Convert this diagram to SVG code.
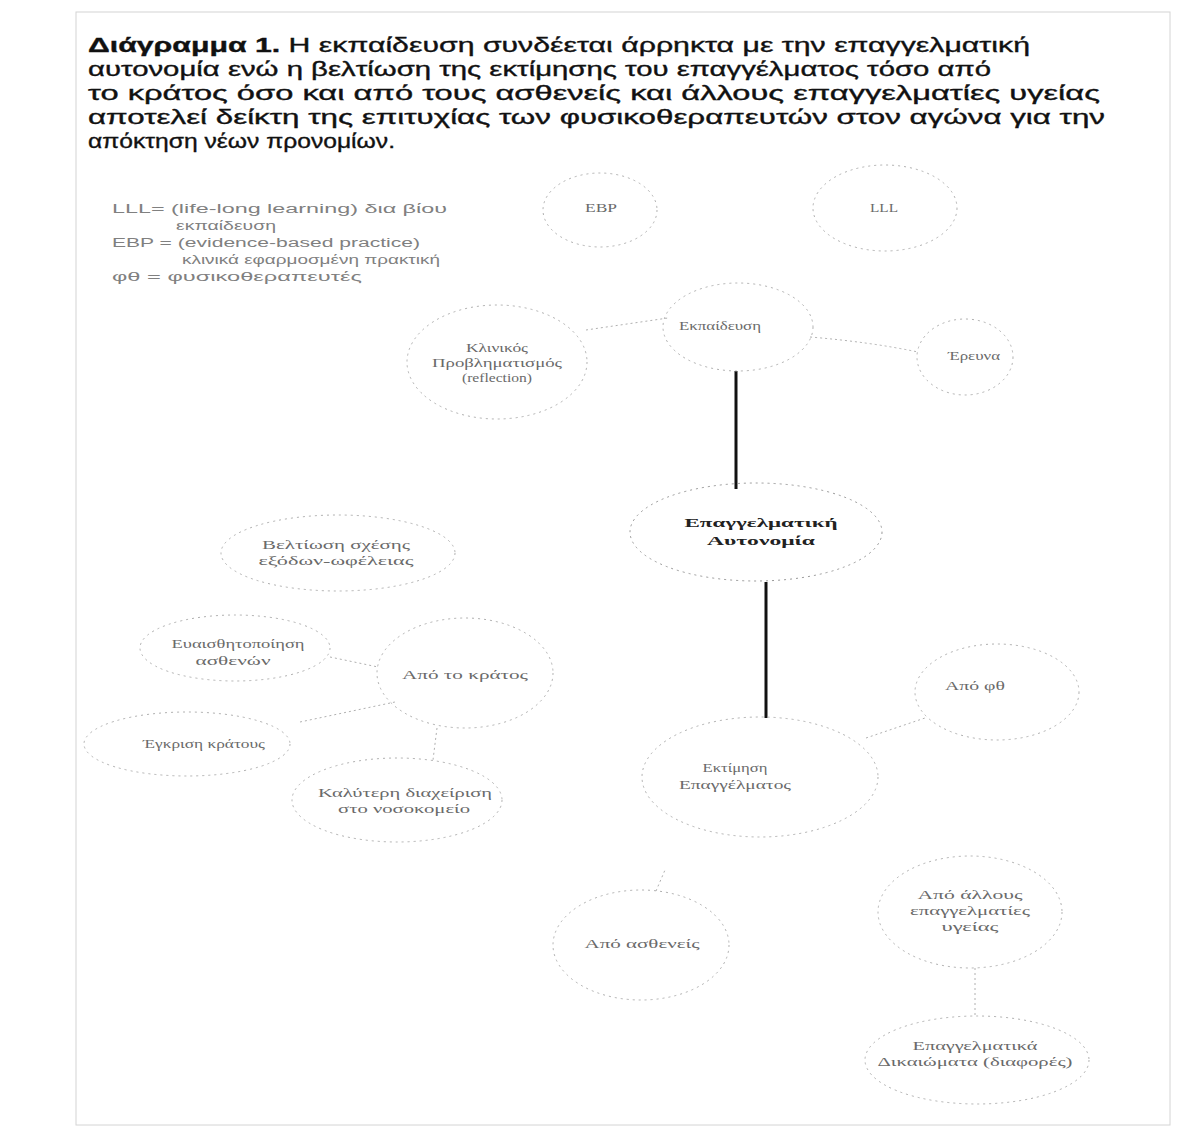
<svg xmlns="http://www.w3.org/2000/svg" width="1177" height="1127" viewBox="0 0 1177 1127">
<style>
.title{font-family:"Liberation Sans",Arial,sans-serif;font-size:20px;fill:#111;stroke:#111;stroke-width:0.35}
.legend{font-family:"Liberation Sans",Arial,sans-serif;font-size:12.5px;fill:#808080}
.node ellipse{fill:none;stroke:#b0b0b0;stroke-width:1;stroke-dasharray:2 4}
.node text{font-family:"Liberation Serif","Times New Roman",serif;font-size:11.5px;fill:#6a6a6a;text-anchor:middle}
.main text{font-weight:bold;font-size:13.5px;fill:#222}
.main ellipse{stroke:#999}
.thin{stroke:#b0b0b0;stroke-width:1;fill:none;stroke-dasharray:2 3}
.thick{stroke:#111;stroke-width:3;fill:none}
</style>
<rect width="1177" height="1127" fill="#fff"/>
<rect x="76" y="12" width="1094" height="1113" fill="none" stroke="#d4d4d4" stroke-width="1"/>
<g id="title">
<text class="title" x="88" y="52" textLength="942" lengthAdjust="spacingAndGlyphs"><tspan font-weight="bold">Διάγραμμα 1.</tspan> Η εκπαίδευση συνδέεται άρρηκτα με την επαγγελματική</text>
<text class="title" x="88" y="76" textLength="903" lengthAdjust="spacingAndGlyphs">αυτονομία ενώ η βελτίωση της εκτίμησης του επαγγέλματος τόσο από</text>
<text class="title" x="88" y="100" textLength="1012" lengthAdjust="spacingAndGlyphs">το κράτος όσο και από τους ασθενείς και άλλους επαγγελματίες υγείας</text>
<text class="title" x="88" y="124" textLength="1017" lengthAdjust="spacingAndGlyphs">αποτελεί δείκτη της επιτυχίας των φυσικοθεραπευτών στον αγώνα για την</text>
<text class="title" x="88" y="148" textLength="307" lengthAdjust="spacingAndGlyphs">απόκτηση νέων προνομίων.</text>
</g>
<g id="legend">
<text class="legend" x="112" y="213" textLength="335" lengthAdjust="spacingAndGlyphs">LLL= (life-long learning) δια βίου</text>
<text class="legend" x="176" y="230" textLength="100" lengthAdjust="spacingAndGlyphs">εκπαίδευση</text>
<text class="legend" x="112" y="247" textLength="308" lengthAdjust="spacingAndGlyphs">EBP = (evidence-based practice)</text>
<text class="legend" x="182" y="264" textLength="258" lengthAdjust="spacingAndGlyphs">κλινικά εφαρμοσμένη πρακτική</text>
<text class="legend" x="112" y="281" textLength="250" lengthAdjust="spacingAndGlyphs">φθ = φυσικοθεραπευτές</text>
</g>
<g id="connectors">
<line class="thick" x1="736" y1="371" x2="736" y2="489"/>
<line class="thick" x1="766" y1="582" x2="766" y2="718"/>
<path class="thin" d="M586 330 L668 318"/>
<path class="thin" d="M810 337 Q870 342 918 352"/>
<path class="thin" d="M330 657 L378 667"/>
<path class="thin" d="M300 722 L395 702"/>
<path class="thin" d="M437 728 L433 760"/>
<path class="thin" d="M866 738 L925 718"/>
<path class="thin" d="M656 891 L665 870"/>
<path class="thin" d="M975 968 L975 1017"/>
</g>
<g id="n-ebp" class="node"><ellipse cx="600" cy="210" rx="57" ry="37"/><text x="601" y="212" textLength="32" lengthAdjust="spacingAndGlyphs">EBP</text></g>
<g id="n-lll" class="node"><ellipse cx="885" cy="208" rx="72" ry="43"/><text x="884" y="212" textLength="28" lengthAdjust="spacingAndGlyphs">LLL</text></g>
<g id="n-ekpaideusi" class="node"><ellipse cx="738" cy="327" rx="75" ry="44"/><text x="720" y="330" textLength="82" lengthAdjust="spacingAndGlyphs">Εκπαίδευση</text></g>
<g id="n-klinikos" class="node"><ellipse cx="497" cy="362" rx="90" ry="57"/><text x="497" y="352" textLength="62" lengthAdjust="spacingAndGlyphs">Κλινικός</text><text x="497" y="367" textLength="130" lengthAdjust="spacingAndGlyphs">Προβληματισμός</text><text x="497" y="382" textLength="70" lengthAdjust="spacingAndGlyphs">(reflection)</text></g>
<g id="n-ereuna" class="node"><ellipse cx="965" cy="357" rx="48" ry="38"/><text x="974" y="360" textLength="52" lengthAdjust="spacingAndGlyphs">Έρευνα</text></g>
<g id="n-autonomia" class="node main"><ellipse cx="756" cy="532" rx="126" ry="49"/><text x="761" y="527" textLength="153" lengthAdjust="spacingAndGlyphs">Επαγγελματική</text><text x="761" y="545" textLength="108" lengthAdjust="spacingAndGlyphs">Αυτονομία</text></g>
<g id="n-beltiosi" class="node"><ellipse cx="338" cy="553" rx="117" ry="38"/><text x="336" y="549" textLength="148" lengthAdjust="spacingAndGlyphs">Βελτίωση σχέσης</text><text x="336" y="565" textLength="155" lengthAdjust="spacingAndGlyphs">εξόδων-ωφέλειας</text></g>
<g id="n-euaisth" class="node"><ellipse cx="235" cy="648" rx="95" ry="33"/><text x="238" y="648" textLength="133" lengthAdjust="spacingAndGlyphs">Ευαισθητοποίηση</text><text x="233" y="665" textLength="75" lengthAdjust="spacingAndGlyphs">ασθενών</text></g>
<g id="n-kratos" class="node"><ellipse cx="465" cy="673" rx="88" ry="55"/><text x="465" y="679" textLength="126" lengthAdjust="spacingAndGlyphs">Από το κράτος</text></g>
<g id="n-egkrisi" class="node"><ellipse cx="187" cy="744" rx="103" ry="32"/><text x="204" y="748" textLength="122" lengthAdjust="spacingAndGlyphs">Έγκριση κράτους</text></g>
<g id="n-kalyteri" class="node"><ellipse cx="397" cy="800" rx="105" ry="42"/><text x="405" y="797" textLength="174" lengthAdjust="spacingAndGlyphs">Καλύτερη διαχείριση</text><text x="404" y="813" textLength="132" lengthAdjust="spacingAndGlyphs">στο νοσοκομείο</text></g>
<g id="n-fth" class="node"><ellipse cx="997" cy="692" rx="82" ry="48"/><text x="975" y="690" textLength="60" lengthAdjust="spacingAndGlyphs">Από φθ</text></g>
<g id="n-ektimisi" class="node"><ellipse cx="760" cy="777" rx="118" ry="60"/><text x="735" y="772" textLength="65" lengthAdjust="spacingAndGlyphs">Εκτίμηση</text><text x="735" y="789" textLength="112" lengthAdjust="spacingAndGlyphs">Επαγγέλματος</text></g>
<g id="n-astheneis" class="node"><ellipse cx="641" cy="945" rx="88" ry="55"/><text x="642" y="948" textLength="115" lengthAdjust="spacingAndGlyphs">Από ασθενείς</text></g>
<g id="n-allous" class="node"><ellipse cx="970" cy="912" rx="92" ry="56"/><text x="970" y="899" textLength="105" lengthAdjust="spacingAndGlyphs">Από άλλους</text><text x="970" y="915" textLength="120" lengthAdjust="spacingAndGlyphs">επαγγελματίες</text><text x="970" y="931" textLength="57" lengthAdjust="spacingAndGlyphs">υγείας</text></g>
<g id="n-epaggelmatika" class="node"><ellipse cx="977" cy="1060" rx="112" ry="44"/><text x="975" y="1050" textLength="125" lengthAdjust="spacingAndGlyphs">Επαγγελματικά</text><text x="975" y="1066" textLength="195" lengthAdjust="spacingAndGlyphs">Δικαιώματα (διαφορές)</text></g>
</svg>
